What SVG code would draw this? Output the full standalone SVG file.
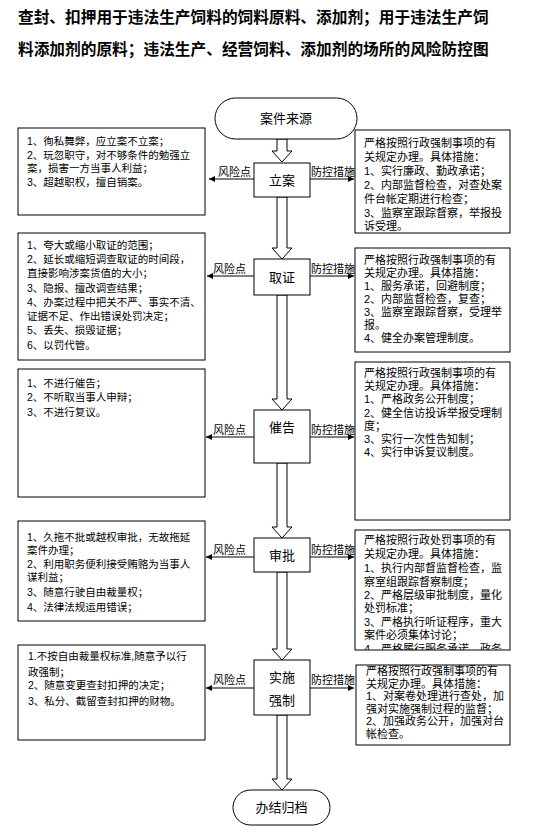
<svg xmlns="http://www.w3.org/2000/svg" width="550" height="837" viewBox="0 0 550 837">
<defs>
<style>
.t{font-family:"Liberation Sans","Noto Sans CJK SC",sans-serif;fill:#000}
.title{font-size:15.7px;font-weight:bold}
.lt{font-size:10.5px}
.rt{font-size:11px}
.nd{font-size:13px;text-anchor:middle}
.lb{font-size:11px}
.box{fill:#fff;stroke:#000;stroke-width:1}
.blk{fill:#fff;stroke:#000;stroke-width:1}
.ln{stroke:#000;stroke-width:1;fill:none;marker-end:url(#ah)}
</style>
<marker id="ah" viewBox="0 0 10 10" refX="10" refY="5" markerWidth="8" markerHeight="6" markerUnits="userSpaceOnUse" orient="auto">
<path d="M0,0 L10,5 L0,10 Z" fill="#000"/>
</marker>
<clipPath id="c4"><rect x="355" y="530" width="155" height="120"/></clipPath>
</defs>
<rect width="550" height="837" fill="#fff"/>
<g id="title" class="t title">
<text x="18" y="23">查封、扣押用于违法生产饲料的饲料原料、添加剂；用于违法生产饲</text>
<text x="18" y="55">料添加剂的原料；违法生产、经营饲料、添加剂的场所的风险防控图</text>
</g>
<g id="connectors">
<path class="blk" d="M277,139 L287,139 L287,151 L292,151 L282,162 L272,151 L277,151 Z"/>
<path class="blk" d="M277,197 L287,197 L287,248 L292,248 L282,259 L272,248 L277,248 Z"/>
<path class="blk" d="M277,295 L287,295 L287,399 L292,399 L282,410 L272,399 L277,399 Z"/>
<path class="blk" d="M277,463 L287,463 L287,527 L292,527 L282,538 L272,527 L277,527 Z"/>
<path class="blk" d="M277,572 L287,572 L287,649 L292,649 L282,660 L272,649 L277,649 Z"/>
<path class="blk" d="M277,715 L287,715 L287,779 L292,779 L282,790 L272,779 L277,779 Z"/>
<line class="ln" x1="254" y1="179" x2="209" y2="179"/>
<line class="ln" x1="310" y1="179" x2="354" y2="179"/>
<line class="ln" x1="254" y1="276" x2="207" y2="276"/>
<line class="ln" x1="310" y1="276" x2="354" y2="276"/>
<line class="ln" x1="254" y1="437" x2="206" y2="437"/>
<line class="ln" x1="310" y1="437" x2="354" y2="437"/>
<line class="ln" x1="254" y1="557" x2="206" y2="557"/>
<line class="ln" x1="310" y1="557" x2="354" y2="557"/>
<line class="ln" x1="254" y1="688" x2="206" y2="688"/>
<line class="ln" x1="310" y1="688" x2="354" y2="688"/>
<g class="t lb">
<text x="218" y="176">风险点</text><text x="311" y="176">防控措施</text>
<text x="213" y="273">风险点</text><text x="311" y="273">防控措施</text>
<text x="213" y="434">风险点</text><text x="311" y="434">防控措施</text>
<text x="213" y="554">风险点</text><text x="311" y="554">防控措施</text>
<text x="213" y="684">风险点</text><text x="311" y="684">防控措施</text>
</g>
</g>
<g id="n-start"><rect class="box" x="215" y="98" width="142" height="41" rx="20.5"/><text class="t nd" x="286" y="123">案件来源</text></g>
<g id="n-lian"><rect class="box" x="254" y="163" width="56" height="34"/><text class="t nd" x="282" y="185">立案</text></g>
<g id="n-quzheng"><rect class="box" x="254" y="259" width="56" height="36"/><text class="t nd" x="282" y="282">取证</text></g>
<g id="n-cuigao"><rect class="box" x="254" y="410" width="56" height="53"/><text class="t nd" x="282" y="432">催告</text></g>
<g id="n-shenpi"><rect class="box" x="254" y="538" width="56" height="34"/><text class="t nd" x="282" y="560">审批</text></g>
<g id="n-shishi"><rect class="box" x="254" y="660" width="56" height="55"/><text class="t nd" x="282" y="682">实施</text><text class="t nd" x="282" y="705">强制</text></g>
<g id="n-end"><rect class="box" x="233" y="790" width="97" height="35" rx="17.5"/><text class="t nd" x="281.5" y="812">办结归档</text></g>
<g id="risk1"><rect class="box" x="18" y="128" width="187" height="87"/>
<text class="t lt"><tspan x="27" y="145">1、徇私舞弊，应立案不立案；</tspan><tspan x="27" y="158.5">2、玩忽职守，对不够条件的勉强立</tspan><tspan x="27" y="172">案，损害一方当事人利益；</tspan><tspan x="27" y="185.5">3、超越职权，擅自销案。</tspan></text></g>
<g id="ctrl1"><rect class="box" x="355" y="130" width="155" height="103"/>
<text class="t rt"><tspan x="364" y="147">严格按照行政强制事项的有</tspan><tspan x="364" y="161">关规定办理。具体措施：</tspan><tspan x="364" y="175">1、实行廉政、勤政承诺；</tspan><tspan x="364" y="189">2、内部监督检查，对查处案</tspan><tspan x="364" y="203">件台帐定期进行检查；</tspan><tspan x="364" y="217">3、监察室跟踪督察，举报投</tspan><tspan x="364" y="230">诉受理。</tspan></text></g>
<g id="risk2"><rect class="box" x="18" y="233" width="187" height="127"/>
<text class="t lt"><tspan x="27" y="249">1、夸大或缩小取证的范围；</tspan><tspan x="27" y="263">2、延长或缩短调查取证的时间段，</tspan><tspan x="27" y="277">直接影响涉案货值的大小；</tspan><tspan x="27" y="291.5">3、隐报、擅改调查结果；</tspan><tspan x="27" y="306">4、办案过程中把关不严、事实不清、</tspan><tspan x="27" y="320">证据不足、作出错误处罚决定；</tspan><tspan x="27" y="334">5、丢失、损毁证据；</tspan><tspan x="27" y="349">6、以罚代管。</tspan></text></g>
<g id="ctrl2"><rect class="box" x="355" y="248" width="155" height="104"/>
<text class="t rt"><tspan x="364" y="264">严格按照行政强制事项的有</tspan><tspan x="364" y="277">关规定办理。具体措施：</tspan><tspan x="364" y="290">1、服务承诺，回避制度；</tspan><tspan x="364" y="303">2、内部监督检查，复查；</tspan><tspan x="364" y="316">3、监察室跟踪督察，受理举</tspan><tspan x="364" y="329">报。</tspan><tspan x="364" y="342">4、健全办案管理制度。</tspan></text></g>
<g id="risk3"><rect class="box" x="18" y="369" width="187" height="128"/>
<text class="t lt"><tspan x="27" y="387">1、不进行催告；</tspan><tspan x="27" y="401">2、不听取当事人申辩；</tspan><tspan x="27" y="416">3、不进行复议。</tspan></text></g>
<g id="ctrl3"><rect class="box" x="355" y="362" width="155" height="158"/>
<text class="t rt"><tspan x="364" y="377">严格按照行政强制事项的有</tspan><tspan x="364" y="390">关规定办理。具体措施：</tspan><tspan x="364" y="403">1、严格政务公开制度；</tspan><tspan x="364" y="417">2、健全信访投诉举报受理制</tspan><tspan x="364" y="430">度；</tspan><tspan x="364" y="443">3、实行一次性告知制；</tspan><tspan x="364" y="456">4、实行申诉复议制度。</tspan></text></g>
<g id="risk4"><rect class="box" x="18" y="521" width="187" height="100"/>
<text class="t lt"><tspan x="27" y="541">1、久拖不批或越权审批，无故拖延</tspan><tspan x="27" y="554">案件办理；</tspan><tspan x="27" y="568">2、利用职务便利接受贿赂为当事人</tspan><tspan x="27" y="581">谋利益；</tspan><tspan x="27" y="596">3、随意行驶自由裁量权；</tspan><tspan x="27" y="611">4、法律法规运用错误；</tspan></text></g>
<g id="ctrl4"><rect class="box" x="355" y="530" width="155" height="120"/>
<text class="t rt" clip-path="url(#c4)"><tspan x="364" y="544">严格按照行政处罚事项的有</tspan><tspan x="364" y="558">关规定办理。具体措施：</tspan><tspan x="364" y="572">1、执行内部督监督检查，监</tspan><tspan x="364" y="586">察室组跟踪督察制度；</tspan><tspan x="364" y="599">2、严格层级审批制度，量化</tspan><tspan x="364" y="612">处罚标准；</tspan><tspan x="364" y="626">3、严格执行听证程序，重大</tspan><tspan x="364" y="639">案件必须集体讨论；</tspan><tspan x="364" y="653">4、严格履行服务承诺，政务</tspan></text></g>
<g id="risk5"><rect class="box" x="18" y="645" width="187" height="95"/>
<text class="t lt"><tspan x="28" y="660">1.不按自由裁量权标准,随意予以行</tspan><tspan x="28" y="676">政强制；</tspan><tspan x="28" y="689">2、随意变更查封扣押的决定；</tspan><tspan x="28" y="705">3、私分、截留查封扣押的财物。</tspan></text></g>
<g id="ctrl5"><rect class="box" x="356" y="665" width="154" height="80"/>
<text class="t rt"><tspan x="366" y="675">严格按照行政强制事项的有</tspan><tspan x="366" y="687.5">关规定办理。具体措施：</tspan><tspan x="366" y="700">1、对案卷处理进行查处，加</tspan><tspan x="366" y="712.5">强对实施强制过程的监督；</tspan><tspan x="366" y="725">2、加强政务公开，加强对台</tspan><tspan x="366" y="737.5">帐检查。</tspan></text></g>
</svg>
